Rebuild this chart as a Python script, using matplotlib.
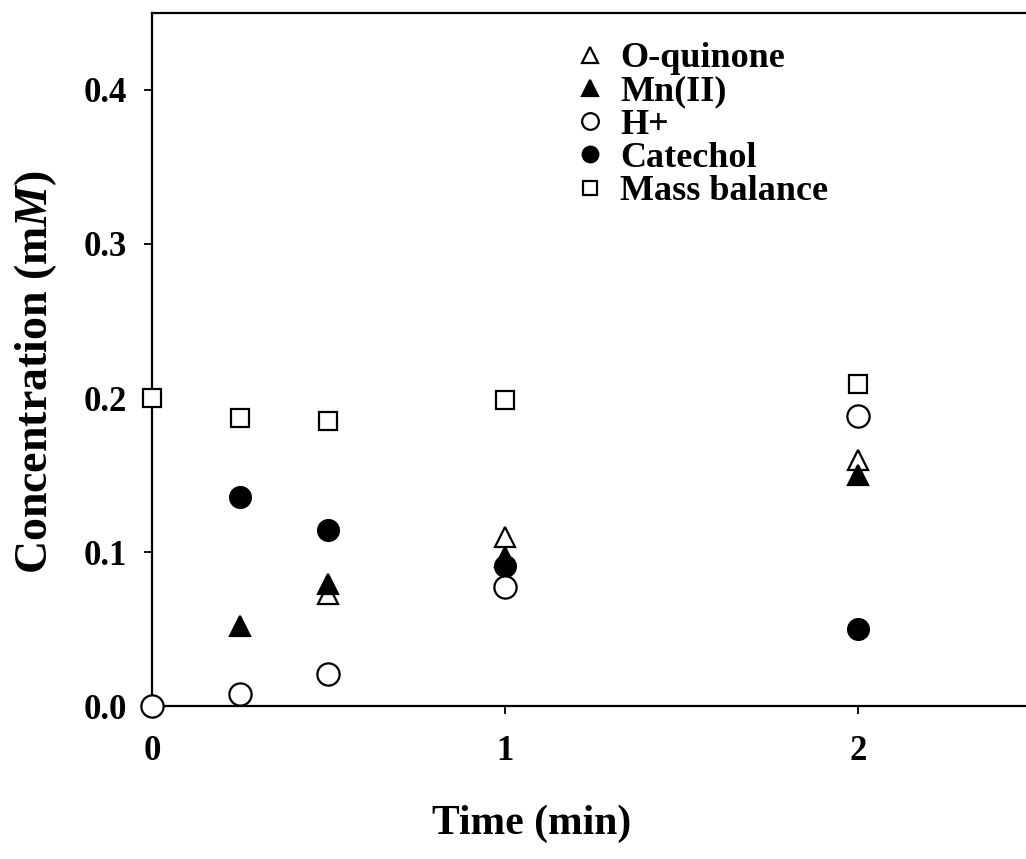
import matplotlib
matplotlib.use('Agg')
import matplotlib.pyplot as plt

# Measured concentrations (mM) against time (min)
t_quinone = [0.5, 1.0, 2.0]
quinone = [0.073, 0.110, 0.160]

t_mn = [0.25, 0.5, 1.0, 2.0]
mn = [0.052, 0.079, 0.097, 0.150]

t_h = [0.0, 0.25, 0.5, 1.0, 2.0]
h_plus = [0.0, 0.008, 0.021, 0.077, 0.188]

t_cat = [0.25, 0.5, 1.0, 2.0]
catechol = [0.136, 0.114, 0.091, 0.050]

t_mass = [0.0, 0.25, 0.5, 1.0, 2.0]
mass_balance = [0.200, 0.187, 0.185, 0.199, 0.209]

x_ticks = [0, 1, 2]
y_ticks = [0.0, 0.1, 0.2, 0.3, 0.4]

plt.rcParams['font.family'] = 'Liberation Serif'
plt.rcParams['font.weight'] = 'bold'
plt.rcParams['mathtext.fontset'] = 'custom'
plt.rcParams['mathtext.it'] = 'Liberation Serif:italic:bold'
plt.rcParams['mathtext.rm'] = 'Liberation Serif:bold'

fig = plt.figure(figsize=(10.26, 8.59), dpi=100)
ax = fig.add_axes([0.148, 0.178, 0.86, 0.807])

kw = dict(linestyle='none', markeredgecolor='black', markeredgewidth=1.6, clip_on=False)
ax.plot(t_cat, catechol, marker='o', markersize=15, markerfacecolor='black', label='Catechol', zorder=3, **kw)
ax.plot(t_mn, mn, marker='^', markersize=15, markerfacecolor='black', label='Mn(II)', zorder=4, **kw)
ax.plot(t_quinone, quinone, marker='^', markersize=15, markerfacecolor='white', label='O-quinone', zorder=3.5, **kw)
ax.plot(t_h, h_plus, marker='o', markersize=16, markerfacecolor='white', label='H+', zorder=5, **kw)
ax.plot(t_mass, mass_balance, marker='s', markersize=13.5, markerfacecolor='white', label='Mass balance', zorder=5, **kw)

ax.set_xlim(0, 2.5)
ax.set_ylim(0, 0.45)
ax.set_xticks(x_ticks)
ax.set_xticklabels([str(v) for v in x_ticks])
ax.set_yticks(y_ticks)
ax.set_yticklabels([f'{v:.1f}' for v in y_ticks])
ax.tick_params(axis='both', direction='out', length=6, width=1.3, labelsize=25)
ax.tick_params(axis='x', pad=15)
ax.tick_params(axis='y', pad=12)
ax.spines['right'].set_visible(False)
for s in ['left', 'top', 'bottom']:
    ax.spines[s].set_linewidth(1.6)

ax.set_xlabel('Time (min)', fontsize=30, fontweight='bold')
ax.set_ylabel(r'Concentration (m$\mathit{M}$)', fontsize=33, fontweight='bold')
ax.xaxis.set_label_coords(0.43, -0.142)
ax.yaxis.set_label_coords(-0.105, 0.482)

# legend order as listed in the figure
handles, labels = ax.get_legend_handles_labels()
order = ['O-quinone', 'Mn(II)', 'H+', 'Catechol', 'Mass balance']
hmap = dict(zip(labels, handles))
leg = ax.legend([hmap[k] for k in order], order, loc='upper left', bbox_to_anchor=(0.476, 0.958),
                frameon=False, fontsize=26, handletextpad=0.33, labelspacing=0.0,
                markerscale=0.75, handlelength=1.0, borderpad=0, borderaxespad=0)

fig.savefig('out.png', dpi=100)
